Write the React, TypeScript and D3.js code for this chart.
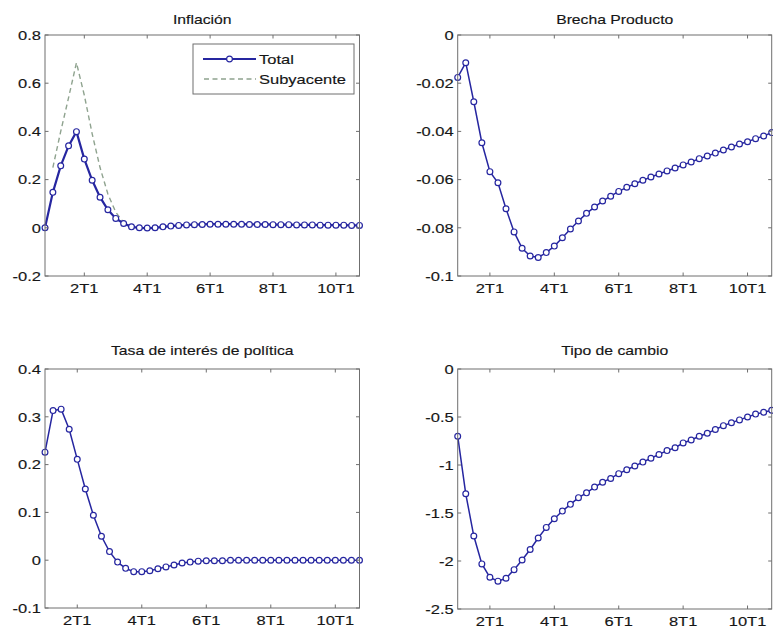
import React from "react";
import * as d3 from "d3";

// ---------- data ----------
const xTickValues = [5, 13, 21, 29, 37];
const xTickLabels = ["2T1", "4T1", "6T1", "8T1", "10T1"];

// Inflación (quarters 0..40)
const inflacionTotal = [
  0, 0.147, 0.257, 0.34, 0.399, 0.285, 0.197, 0.127, 0.075, 0.039, 0.018,
  0.004, 0.0, -0.001, 0.0, 0.004, 0.007, 0.01, 0.012, 0.013, 0.014, 0.015,
  0.015, 0.015, 0.015, 0.015, 0.014, 0.014, 0.014, 0.013, 0.013, 0.013, 0.012,
  0.012, 0.012, 0.011, 0.011, 0.011, 0.011, 0.01, 0.01,
];
// Subyacente (quarters 1..40)
const inflacionSubyacente = [
  0.25, 0.4, 0.54, 0.685, 0.55, 0.39, 0.25, 0.14, 0.065, 0.022, 0.006, 0.001,
  -0.001, 0.0, 0.004, 0.007, 0.01, 0.012, 0.013, 0.014, 0.015, 0.015, 0.015,
  0.015, 0.015, 0.014, 0.014, 0.014, 0.013, 0.013, 0.013, 0.012, 0.012, 0.012,
  0.011, 0.011, 0.011, 0.011, 0.01, 0.01,
];
// Brecha Producto (quarters 1..40)
const brechaProducto = [
  -0.0176, -0.0115, -0.0277, -0.0447, -0.0567, -0.0613, -0.0721, -0.0817,
  -0.0885, -0.0917, -0.0923, -0.0903, -0.0876, -0.0841, -0.0805, -0.0772,
  -0.074, -0.0714, -0.0689, -0.0669, -0.0649, -0.0632, -0.0617, -0.0603,
  -0.0589, -0.0577, -0.0564, -0.0552, -0.0539, -0.0527, -0.0513, -0.0502,
  -0.049, -0.0477, -0.0465, -0.0452, -0.0443, -0.043, -0.0419, -0.0405,
];
// Tasa de interés de política (quarters 1..40)
const tasaInteres = [
  0.226, 0.313, 0.316, 0.274, 0.211, 0.149, 0.094, 0.05, 0.018, -0.004,
  -0.017, -0.024, -0.024, -0.022, -0.018, -0.014, -0.01, -0.006, -0.004,
  -0.002, -0.001, -0.001, -0.001, 0, 0, 0, 0, 0, 0, 0, 0, 0, 0, 0, 0, 0, 0, 0,
  0, 0,
];
// Tipo de cambio (quarters 1..40)
const tipoCambio = [
  -0.7, -1.3, -1.74, -2.03, -2.17, -2.21, -2.18, -2.09, -1.99, -1.88, -1.76,
  -1.65, -1.56, -1.48, -1.41, -1.34, -1.29, -1.23, -1.18, -1.14, -1.09, -1.05,
  -1.01, -0.97, -0.93, -0.89, -0.85, -0.82, -0.77, -0.74, -0.7, -0.67, -0.63,
  -0.59, -0.56, -0.53, -0.5, -0.47, -0.45, -0.43,
];

const inflacionTicks = [-0.2, 0, 0.2, 0.4, 0.6, 0.8];
const brechaTicks = [-0.1, -0.08, -0.06, -0.04, -0.02, 0];
const tasaTicks = [-0.1, 0, 0.1, 0.2, 0.3, 0.4];
const cambioTicks = [-2.5, -2, -1.5, -1, -0.5, 0];

// ---------- style ----------
const FONT = "'Liberation Sans', Arial, Helvetica, sans-serif";
const SX = 1.23; // horizontal stretch of the original raster
const LINE = "#2626a0";
const AXIS = "#6f6f6f";
const TEXT = "#161616";
const DASH = "#8fa38f";
const TICK = 3.5;
const MR = 2.9;

const fmt = (v: number) => String(+v.toFixed(3));

function Label(props: {
  x: number;
  y: number;
  anchor?: string;
  size?: number;
  dy?: string;
  children: React.ReactNode;
}) {
  const { x, y, anchor = "middle", size = 13.4, dy, children } = props;
  return (
    <text
      transform={`translate(${x},${y}) scale(${SX},1)`}
      textAnchor={anchor}
      fontSize={size}
      fontFamily={FONT}
      fill={TEXT}
      stroke={TEXT}
      strokeWidth={0.15}
      dy={dy}
    >
      {children}
    </text>
  );
}

type Series = {
  values: number[];
  start: number;
  dashed?: boolean;
  width: number;
  markers: boolean;
};

type PanelProps = {
  left: number;
  right: number;
  top: number;
  bottom: number;
  xDomain: [number, number];
  yTicks: number[];
  title: string;
  titleY: number;
  series: Series[];
  legend?: boolean;
};

function Panel(p: PanelProps) {
  const x = d3.scaleLinear().domain(p.xDomain).range([p.left, p.right]);
  const y = d3
    .scaleLinear()
    .domain([p.yTicks[0], p.yTicks[p.yTicks.length - 1]])
    .range([p.bottom, p.top]);

  return (
    <g>
      <Label x={(p.left + p.right) / 2} y={p.titleY} size={12.8}>
        {p.title}
      </Label>
      {/* data */}
      {p.series.map((s, si) => {
        const pts: [number, number][] = s.values.map((v, i) => [
          x(s.start + i),
          y(v),
        ]);
        const path = d3.line()(pts) || "";
        return (
          <g key={si}>
            <path
              d={path}
              fill="none"
              stroke={s.dashed ? DASH : LINE}
              strokeWidth={s.width}
              strokeDasharray={s.dashed ? "5,3.5" : undefined}
            />
            {s.markers &&
              pts.map((pt, i) => (
                <circle
                  key={i}
                  cx={pt[0]}
                  cy={pt[1]}
                  r={MR}
                  fill="white"
                  stroke={LINE}
                  strokeWidth={1.2}
                />
              ))}
          </g>
        );
      })}
      {/* box */}
      <rect
        x={p.left}
        y={p.top}
        width={p.right - p.left}
        height={p.bottom - p.top}
        fill="none"
        stroke={AXIS}
        strokeWidth={1}
      />
      {/* x ticks */}
      {xTickValues.map((t, i) => (
        <g key={"x" + i}>
          <line x1={x(t)} x2={x(t)} y1={p.bottom} y2={p.bottom - TICK} stroke={AXIS} />
          <line x1={x(t)} x2={x(t)} y1={p.top} y2={p.top + TICK} stroke={AXIS} />
          <Label x={x(t)} y={p.bottom + 17}>
            {xTickLabels[i]}
          </Label>
        </g>
      ))}
      {/* y ticks */}
      {p.yTicks.map((t, i) => (
        <g key={"y" + i}>
          <line x1={p.left} x2={p.left + TICK} y1={y(t)} y2={y(t)} stroke={AXIS} />
          <line x1={p.right} x2={p.right - TICK} y1={y(t)} y2={y(t)} stroke={AXIS} />
          <Label x={p.left - 4} y={y(t)} anchor="end" dy="0.36em">
            {fmt(t)}
          </Label>
        </g>
      ))}
      {p.legend && (
        <g>
          <rect x={193} y={44} width={161} height={50} fill="white" stroke={AXIS} />
          <line x1={203} x2={256} y1={59} y2={59} stroke={LINE} strokeWidth={2.2} />
          <circle cx={229.5} cy={59} r={MR} fill="white" stroke={LINE} strokeWidth={1.2} />
          <Label x={259} y={64} anchor="start">
            Total
          </Label>
          <line
            x1={204}
            x2={256}
            y1={79}
            y2={79}
            stroke={DASH}
            strokeWidth={1.4}
            strokeDasharray="5,3.5"
          />
          <Label x={259} y={84} anchor="start">
            Subyacente
          </Label>
        </g>
      )}
    </g>
  );
}

export default function App() {
  return (
    <svg
      width={773}
      height={635}
      style={{ position: "absolute", left: 0, top: 0, background: "white" }}
    >
      <rect width={773} height={635} fill="white" />
      <Panel
        left={45}
        right={359.5}
        top={35}
        bottom={276}
        xDomain={[0, 40]}
        yTicks={inflacionTicks}
        title="Inflación"
        titleY={24}
        legend
        series={[
          { values: inflacionSubyacente, start: 1, dashed: true, width: 1.4, markers: false },
          { values: inflacionTotal, start: 0, width: 2.2, markers: true },
        ]}
      />
      <Panel
        left={457.7}
        right={771.7}
        top={35}
        bottom={276}
        xDomain={[1, 40]}
        yTicks={brechaTicks}
        title="Brecha Producto"
        titleY={24}
        series={[{ values: brechaProducto, start: 1, width: 1.5, markers: true }]}
      />
      <Panel
        left={45}
        right={359.5}
        top={369}
        bottom={608}
        xDomain={[1, 40]}
        yTicks={tasaTicks}
        title="Tasa de interés de política"
        titleY={355}
        series={[{ values: tasaInteres, start: 1, width: 1.5, markers: true }]}
      />
      <Panel
        left={457.7}
        right={771.7}
        top={369}
        bottom={609}
        xDomain={[1, 40]}
        yTicks={cambioTicks}
        title="Tipo de cambio"
        titleY={355}
        series={[{ values: tipoCambio, start: 1, width: 1.5, markers: true }]}
      />
    </svg>
  );
}
